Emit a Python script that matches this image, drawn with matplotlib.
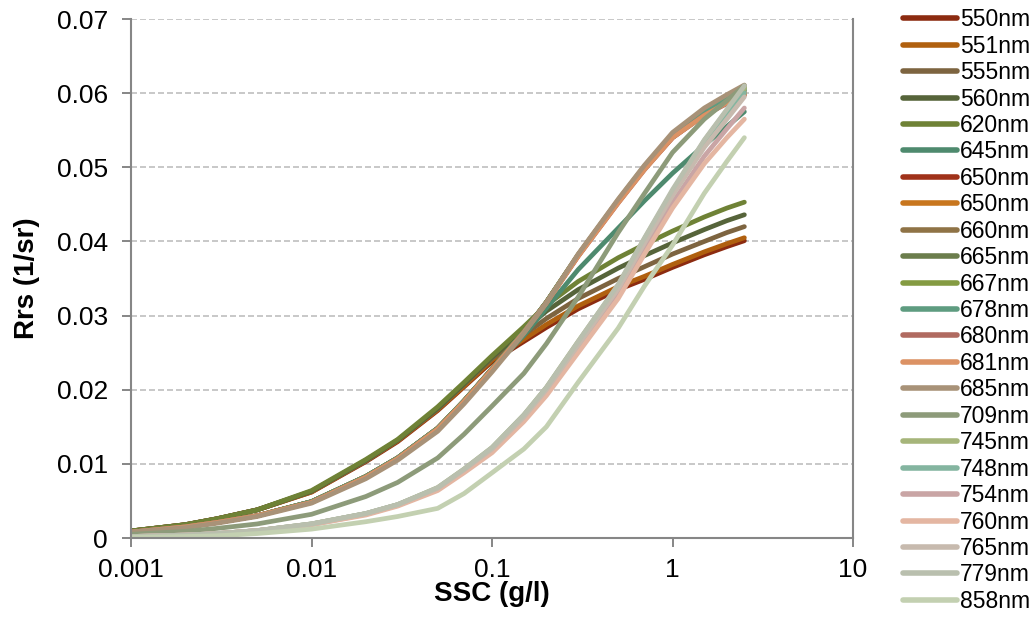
import matplotlib.pyplot as plt
from matplotlib.ticker import FixedLocator, NullLocator

plt.rcParams['font.family'] = ['Liberation Sans', 'DejaVu Sans']

ssc = [0.001, 0.002, 0.003, 0.005, 0.01, 0.02, 0.03, 0.05, 0.07, 0.1,
       0.15, 0.2, 0.3, 0.5, 0.7, 1, 1.5, 2, 2.5]

bands = ['550nm', '551nm', '555nm', '560nm', '620nm', '645nm', '650nm', '650nm',
         '660nm', '665nm', '667nm', '678nm', '680nm', '681nm', '685nm', '709nm',
         '745nm', '748nm', '754nm', '760nm', '765nm', '779nm', '858nm']

colors = ['#8c2b10', '#b0600f', '#7d6440', '#56643a', '#6f8236', '#4e8a6e',
          '#a0321a', '#c8761e', '#8f7346', '#6b7d4c', '#849b42', '#5e9c80',
          '#b06a60', '#dc9264', '#a89278', '#8d9b7a', '#a6b57a', '#84b5a0',
          '#c9a5a5', '#e4b6a2', '#c7baae', '#b9bfae', '#c3d0b1']

rrs_550 = [0.00095, 0.0018, 0.0026, 0.0038, 0.0062, 0.0103, 0.0130, 0.0172, 0.0204, 0.0238,
           0.0265, 0.0284, 0.0309, 0.0335, 0.0349, 0.0365, 0.0382, 0.0393, 0.0401]
rrs_551 = [0.00095, 0.0018, 0.0026, 0.0038, 0.0062, 0.0104, 0.0131, 0.0173, 0.0205, 0.0240,
           0.0268, 0.0288, 0.0313, 0.0339, 0.0353, 0.0369, 0.0386, 0.0397, 0.0405]
rrs_555 = [0.00095, 0.0018, 0.0026, 0.0038, 0.0063, 0.0104, 0.0132, 0.0174, 0.0207, 0.0242,
           0.0274, 0.0296, 0.0323, 0.0350, 0.0366, 0.0383, 0.0400, 0.0412, 0.0420]
rrs_560 = [0.00095, 0.0018, 0.0026, 0.0038, 0.0063, 0.0105, 0.0132, 0.0175, 0.0208, 0.0244,
           0.0280, 0.0306, 0.0335, 0.0364, 0.0381, 0.0398, 0.0416, 0.0428, 0.0436]
rrs_620 = [0.00095, 0.0018, 0.0026, 0.0038, 0.0064, 0.0106, 0.0133, 0.0177, 0.0210, 0.0246,
           0.0285, 0.0314, 0.0346, 0.0378, 0.0396, 0.0414, 0.0433, 0.0445, 0.0453]
rrs_645 = [0.0008, 0.0015, 0.0021, 0.0030, 0.0049, 0.0083, 0.0108, 0.0148, 0.0185, 0.0228,
           0.0273, 0.0310, 0.0362, 0.0418, 0.0455, 0.0492, 0.0530, 0.0555, 0.0575]
rrs_650a = [0.0008, 0.0015, 0.0021, 0.0030, 0.0049, 0.0083, 0.0108, 0.0148, 0.0185, 0.0228,
            0.0278, 0.0318, 0.0381, 0.0453, 0.0498, 0.0540, 0.0571, 0.0588, 0.0598]
rrs_650b = [0.0008, 0.0015, 0.0021, 0.0030, 0.0049, 0.0083, 0.0108, 0.0148, 0.0185, 0.0228,
            0.0278, 0.0318, 0.0381, 0.0454, 0.0499, 0.0541, 0.0572, 0.0589, 0.0600]
rrs_660 = [0.0008, 0.0015, 0.0021, 0.0030, 0.0049, 0.0083, 0.0108, 0.0148, 0.0185, 0.0228,
           0.0278, 0.0318, 0.0382, 0.0455, 0.0500, 0.0543, 0.0574, 0.0592, 0.0603]
rrs_665 = [0.0008, 0.0015, 0.0021, 0.0030, 0.0049, 0.0083, 0.0108, 0.0148, 0.0185, 0.0228,
           0.0278, 0.0318, 0.0382, 0.0455, 0.0501, 0.0544, 0.0576, 0.0594, 0.0606]
rrs_667 = [0.0008, 0.0015, 0.0021, 0.0030, 0.0049, 0.0083, 0.0108, 0.0148, 0.0185, 0.0228,
           0.0278, 0.0318, 0.0382, 0.0456, 0.0502, 0.0545, 0.0577, 0.0596, 0.0608]
rrs_678 = [0.0008, 0.0015, 0.0021, 0.0030, 0.0049, 0.0083, 0.0108, 0.0148, 0.0185, 0.0228,
           0.0278, 0.0318, 0.0381, 0.0454, 0.0499, 0.0542, 0.0574, 0.0592, 0.0604]
rrs_680 = [0.0008, 0.0015, 0.0021, 0.0030, 0.0048, 0.0082, 0.0107, 0.0147, 0.0184, 0.0227,
           0.0277, 0.0317, 0.0380, 0.0452, 0.0497, 0.0540, 0.0570, 0.0586, 0.0597]
rrs_681 = [0.0008, 0.0015, 0.0021, 0.0030, 0.0048, 0.0082, 0.0107, 0.0147, 0.0184, 0.0227,
           0.0277, 0.0317, 0.0380, 0.0452, 0.0497, 0.0540, 0.0570, 0.0587, 0.0598]
rrs_685 = [0.0008, 0.0014, 0.0020, 0.0029, 0.0047, 0.0080, 0.0105, 0.0144, 0.0181, 0.0224,
           0.0276, 0.0317, 0.0383, 0.0457, 0.0503, 0.0547, 0.0580, 0.0598, 0.0611]
rrs_709 = [0.0005, 0.0009, 0.0013, 0.0019, 0.0032, 0.0056, 0.0075, 0.0108, 0.0140, 0.0178,
           0.0222, 0.0262, 0.0325, 0.0412, 0.0465, 0.0520, 0.0565, 0.0590, 0.0610]
rrs_745 = [0.0002, 0.0004, 0.0006, 0.0010, 0.0019, 0.0033, 0.0045, 0.0068, 0.0093, 0.0122,
           0.0166, 0.0203, 0.0265, 0.0341, 0.0404, 0.0468, 0.0536, 0.0577, 0.0606]
rrs_748 = [0.0002, 0.0004, 0.0006, 0.0010, 0.0019, 0.0033, 0.0045, 0.0067, 0.0092, 0.0121,
           0.0165, 0.0202, 0.0263, 0.0339, 0.0401, 0.0466, 0.0532, 0.0572, 0.0600]
rrs_754 = [0.0002, 0.0004, 0.0006, 0.0010, 0.0018, 0.0032, 0.0044, 0.0066, 0.0090, 0.0118,
           0.0160, 0.0196, 0.0255, 0.0329, 0.0390, 0.0452, 0.0515, 0.0552, 0.0580]
rrs_760 = [0.0002, 0.0004, 0.0006, 0.0010, 0.0018, 0.0031, 0.0043, 0.0064, 0.0088, 0.0115,
           0.0157, 0.0192, 0.0250, 0.0323, 0.0383, 0.0445, 0.0505, 0.0540, 0.0565]
rrs_765 = [0.0002, 0.0004, 0.0006, 0.0010, 0.0019, 0.0033, 0.0045, 0.0067, 0.0092, 0.0120,
           0.0163, 0.0200, 0.0260, 0.0336, 0.0398, 0.0462, 0.0527, 0.0565, 0.0595]
rrs_779 = [0.0002, 0.0004, 0.0006, 0.0010, 0.0019, 0.0033, 0.0045, 0.0068, 0.0093, 0.0122,
           0.0166, 0.0203, 0.0265, 0.0342, 0.0405, 0.0470, 0.0537, 0.0578, 0.0610]
rrs_858 = [0.0001, 0.0002, 0.0003, 0.0006, 0.0012, 0.0022, 0.0029, 0.0040, 0.0060, 0.0088,
           0.0120, 0.0150, 0.0210, 0.0283, 0.0340, 0.0395, 0.0465, 0.0508, 0.0540]

series = [rrs_550, rrs_551, rrs_555, rrs_560, rrs_620, rrs_645, rrs_650a, rrs_650b,
          rrs_660, rrs_665, rrs_667, rrs_678, rrs_680, rrs_681, rrs_685, rrs_709,
          rrs_745, rrs_748, rrs_754, rrs_760, rrs_765, rrs_779, rrs_858]

fig = plt.figure(figsize=(10.35, 6.34), dpi=100)
ax = fig.add_axes([0.1266, 0.1514, 0.6976, 0.8186])

for vals, c, lab in zip(series, colors, bands):
    ax.plot(ssc, vals, color=c, lw=3.4, label=lab,
            solid_capstyle='round', solid_joinstyle='round')

ax.set_xscale('log')
ax.set_xlim(0.001, 10)
ax.set_ylim(0, 0.07)
ax.xaxis.set_major_locator(FixedLocator([0.001, 0.01, 0.1, 1, 10]))
ax.xaxis.set_minor_locator(NullLocator())
ax.set_xticklabels(['0.001', '0.01', '0.1', '1', '10'])
ax.set_yticks([0, 0.01, 0.02, 0.03, 0.04, 0.05, 0.06, 0.07])
ax.set_yticklabels(['0', '0.01', '0.02', '0.03', '0.04', '0.05', '0.06', '0.07'])
ax.tick_params(labelsize=19, colors='#868686', labelcolor='black', length=6.5, width=1.4)
ax.tick_params(axis='y', pad=10)
ax.tick_params(axis='x', pad=8)

ax.grid(axis='y', color='#bfbfbf', linestyle=(0, (3.6, 1.8)), linewidth=1.2)
ax.set_axisbelow(True)
for side in ['left', 'bottom', 'right']:
    ax.spines[side].set_color('#868686')
    ax.spines[side].set_linewidth(1.5)
ax.spines['top'].set_visible(False)

ax.set_xlabel('SSC (g/l)', fontsize=20, fontweight='bold')
ax.set_ylabel('Rrs (1/sr)', fontsize=20, fontweight='bold')
ax.xaxis.set_label_coords(0.5, -0.083)
ax.yaxis.set_label_coords(-0.126, 0.5)

leg = fig.legend(loc='upper left', bbox_to_anchor=(0.8725, 0.987), frameon=False,
                 fontsize=16.5, handlelength=2.36, handletextpad=0.13,
                 labelspacing=0.15, borderpad=0, borderaxespad=0)
for line in leg.get_lines():
    line.set_linewidth(4)

fig.savefig('out.png', dpi=100)
